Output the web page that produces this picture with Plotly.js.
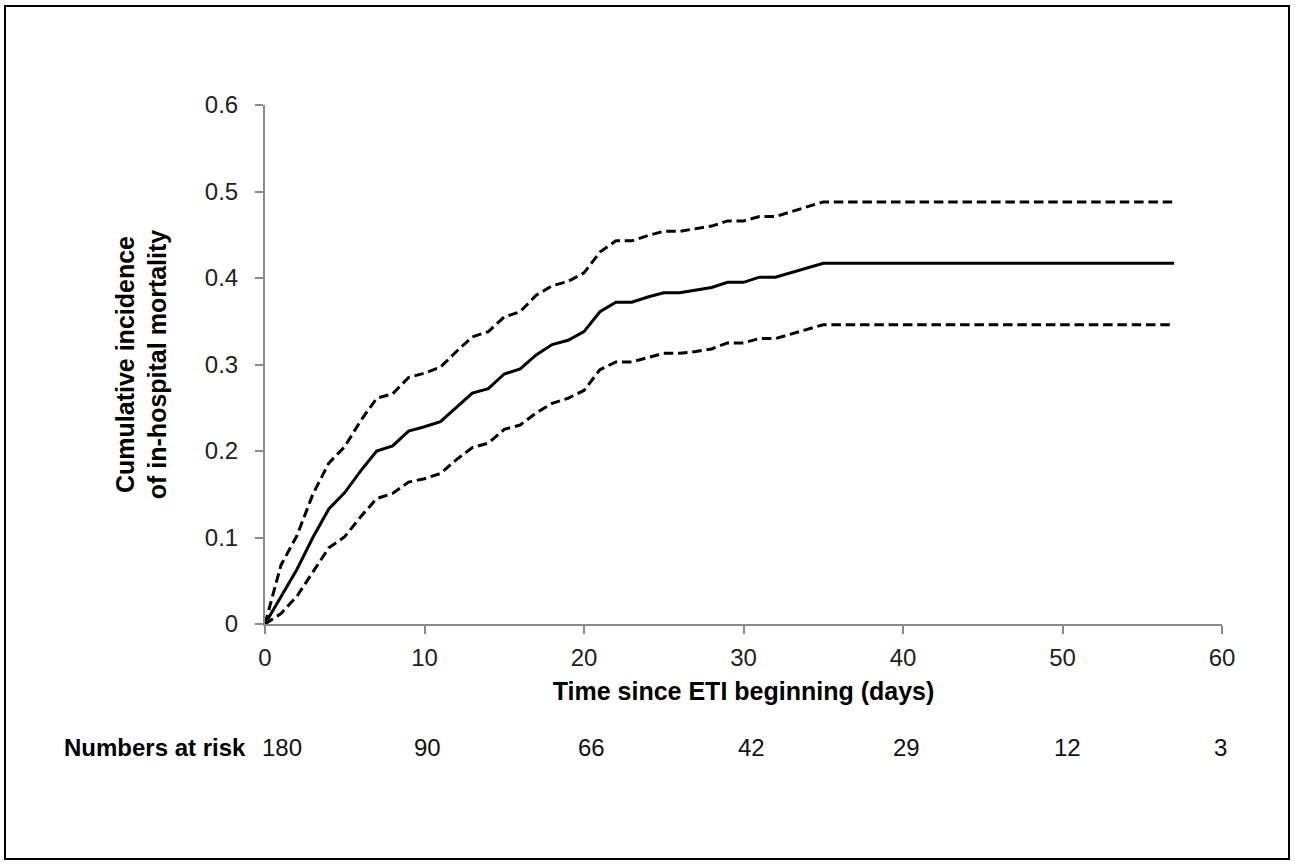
<!DOCTYPE html>
<html>
<head>
<meta charset="utf-8">
<script src="https://cdn.plot.ly/plotly-3.0.1.min.js"></script>
<style>
  html, body { margin: 0; padding: 0; background: #fff; }
  #wrap { position: relative; width: 1295px; height: 868px; }
  #chart { position: absolute; left: 0; top: 0; width: 1295px; height: 868px; }
  #frame { position: absolute; box-sizing: border-box; left: 4px; top: 5px; width: 1286px; height: 855px; border: 2px solid #000; pointer-events: none; }
</style>
</head>
<body>
<div id="wrap">
  <div id="chart"></div>
  <div id="frame"></div>
</div>
<script>
// Days since ETI beginning
const days = [0,1,2,3,4,5,6,7,8,9,10,11,12,13,14,15,16,17,18,19,20,21,22,23,24,25,26,27,28,29,30,31,32,35,57];
// Cumulative incidence estimate
const incidence = [0,0.032,0.063,0.100,0.133,0.152,0.177,0.200,0.206,0.223,0.228,0.234,0.250,0.267,0.272,0.289,0.295,0.311,0.323,0.328,0.338,0.361,0.372,0.372,0.378,0.383,0.383,0.386,0.389,0.395,0.395,0.401,0.401,0.417,0.417];
// Upper confidence bound
const upperCI = [0,0.068,0.102,0.150,0.186,0.205,0.235,0.261,0.266,0.285,0.290,0.297,0.315,0.332,0.338,0.355,0.361,0.380,0.391,0.396,0.406,0.430,0.443,0.443,0.449,0.454,0.454,0.457,0.460,0.466,0.466,0.471,0.471,0.488,0.488];
// Lower confidence bound
const lowerCI = [0,0.012,0.032,0.060,0.088,0.101,0.124,0.145,0.151,0.164,0.168,0.174,0.190,0.204,0.209,0.225,0.230,0.244,0.255,0.261,0.270,0.294,0.303,0.303,0.308,0.313,0.313,0.315,0.318,0.325,0.325,0.330,0.330,0.346,0.346];

// Numbers at risk table
const riskLabel = "Numbers at risk";
const riskDays = [1.07,10.2,20.5,30.5,40.2,50.3,59.9];
const riskCounts = ["180","90","66","42","29","12","3"];

const xTicks = [0,10,20,30,40,50,60];
const yTicks = [0,0.1,0.2,0.3,0.4,0.5,0.6];
const yTickText = ["0","0.1","0.2","0.3","0.4","0.5","0.6"];

const font = "Liberation Sans, Arial, sans-serif";
const fs = 24;
const titleFs = 25;

const traces = [
  { x: days, y: upperCI, mode: "lines", line: { color: "#000", width: 3, dash: "9.5px,4.8px" }, hoverinfo: "skip" },
  { x: days, y: lowerCI, mode: "lines", line: { color: "#000", width: 3, dash: "9.5px,4.8px" }, hoverinfo: "skip" },
  { x: days, y: incidence, mode: "lines", line: { color: "#000", width: 3 }, hoverinfo: "skip" }
];

const riskY = -0.237;
const annotations = [
  { xref: "paper", yref: "paper", x: -0.018, y: riskY, xanchor: "right", yanchor: "middle",
    text: "<b>" + riskLabel + "</b>", showarrow: false, font: { family: font, size: fs, color: "#000" } }
];
riskDays.forEach((d, i) => {
  annotations.push({ xref: "x", yref: "paper", x: d, y: riskY, xanchor: "center", yanchor: "middle",
    text: riskCounts[i], showarrow: false, font: { family: font, size: fs, color: "#111" } });
});

const layout = {
  width: 1295, height: 868,
  margin: { l: 265, r: 73, t: 105, b: 244 },
  paper_bgcolor: "#fff", plot_bgcolor: "#fff",
  showlegend: false,
  font: { family: font, size: fs, color: "#000" },
  xaxis: {
    range: [0, 60], tickvals: xTicks, ticktext: xTicks.map(String),
    showgrid: false, zeroline: false, showline: true, linecolor: "#8a8a8a", linewidth: 2,
    ticks: "outside", ticklen: 8, tickwidth: 2, tickcolor: "#8a8a8a", ticklabelstandoff: 3,
    tickfont: { family: font, size: fs, color: "#222" },
    title: { text: "<b>Time since ETI beginning (days)</b>", font: { family: font, size: titleFs, color: "#000" }, standoff: 13 }
  },
  yaxis: {
    range: [0, 0.6], tickvals: yTicks, ticktext: yTickText,
    showgrid: false, zeroline: false, showline: true, linecolor: "#8a8a8a", linewidth: 2,
    ticks: "outside", ticklen: 8, tickwidth: 2, tickcolor: "#8a8a8a", ticklabelstandoff: 12,
    tickfont: { family: font, size: fs, color: "#222" },
    title: { text: "<b>Cumulative incidence<br>of in-hospital mortality</b>", font: { family: font, size: titleFs, color: "#000" }, standoff: 31 }
  },
  annotations: annotations
};

Plotly.newPlot("chart", traces, layout, { displayModeBar: false, staticPlot: true });
</script>
</body>
</html>
